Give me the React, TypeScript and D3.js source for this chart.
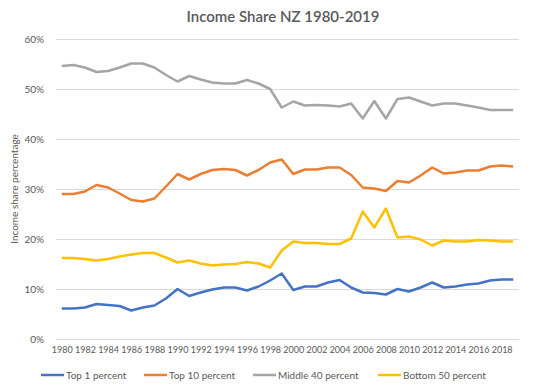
import React, { useEffect, useRef } from "react";
import { select, scalePoint, scaleLinear, line, axisBottom, axisLeft } from "d3";

const years = [
  1980, 1981, 1982, 1983, 1984, 1985, 1986, 1987, 1988, 1989,
  1990, 1991, 1992, 1993, 1994, 1995, 1996, 1997, 1998, 1999,
  2000, 2001, 2002, 2003, 2004, 2005, 2006, 2007, 2008, 2009,
  2010, 2011, 2012, 2013, 2014, 2015, 2016, 2017, 2018, 2019,
];

const top1 = [
  6.1, 6.1, 6.3, 7.0, 6.8, 6.6, 5.7, 6.3, 6.7, 8.1,
  10.0, 8.6, 9.3, 9.9, 10.3, 10.3, 9.7, 10.5, 11.7, 13.1,
  9.8, 10.5, 10.5, 11.3, 11.8, 10.3, 9.3, 9.2, 8.9, 10.0,
  9.5, 10.3, 11.3, 10.3, 10.5, 10.9, 11.1, 11.7, 11.9, 11.9,
];

const top10 = [
  29.0, 29.0, 29.5, 30.8, 30.3, 29.1, 27.8, 27.5, 28.1, 30.5,
  33.0, 31.9, 33.0, 33.8, 34.0, 33.8, 32.7, 33.8, 35.3, 35.9,
  33.0, 33.9, 33.9, 34.3, 34.3, 32.8, 30.3, 30.1, 29.6, 31.6,
  31.3, 32.7, 34.3, 33.1, 33.3, 33.7, 33.7, 34.5, 34.7, 34.5,
];

const middle40 = [
  54.6, 54.8, 54.3, 53.4, 53.6, 54.3, 55.1, 55.1, 54.3, 52.8,
  51.5, 52.6, 51.9, 51.3, 51.1, 51.1, 51.8, 51.1, 50.0, 46.3,
  47.5, 46.7, 46.8, 46.7, 46.5, 47.1, 44.1, 47.6, 44.1, 48.0,
  48.3, 47.5, 46.7, 47.1, 47.1, 46.7, 46.3, 45.8, 45.8, 45.8,
];

const bottom50 = [
  16.2, 16.2, 16.0, 15.7, 16.0, 16.5, 16.9, 17.2, 17.2, 16.3,
  15.3, 15.7, 15.1, 14.7, 14.9, 15.0, 15.4, 15.1, 14.3, 17.7,
  19.5, 19.2, 19.2, 19.0, 19.0, 20.1, 25.5, 22.3, 26.1, 20.3,
  20.5, 19.9, 18.7, 19.7, 19.5, 19.5, 19.8, 19.7, 19.5, 19.5,
];

const yTicks = [0, 10, 20, 30, 40, 50, 60];

const series = [
  { name: "Top 1 percent", values: top1, color: "#4472C4" },
  { name: "Top 10 percent", values: top10, color: "#ED7D31" },
  { name: "Middle 40 percent", values: middle40, color: "#A5A5A5" },
  { name: "Bottom 50 percent", values: bottom50, color: "#FFC000" },
];

const W = 533;
const H = 392;
const FONT = "Lato, 'Open Sans', sans-serif";
const TEXT = "#595959";

const App = () => {
  const ref = useRef<SVGSVGElement>(null);

  useEffect(() => {
    const svg = select(ref.current);
    svg.selectAll("*").remove();

    const x = scalePoint<number>().domain(years).range([56, 519]).padding(0.5);
    const y = scaleLinear().domain([0, 60]).range([339, 39]);

    // gridlines + y labels
    const yAxis = axisLeft(y)
      .tickValues(yTicks)
      .tickSize(-(519 - 56))
      .tickPadding(12)
      .tickFormat((d) => `${d}%`);
    const gy = svg.append("g").attr("transform", "translate(56,0)").call(yAxis);
    gy.select(".domain").remove();
    gy.selectAll(".tick line").attr("stroke", "#D9D9D9").attr("stroke-width", 1);
    gy.selectAll(".tick text")
      .attr("fill", TEXT)
      .attr("font-family", FONT)
      .attr("font-size", 10);

    // x labels every other year
    const xAxis = axisBottom(x)
      .tickValues(years.filter((d, i) => i % 2 === 0))
      .tickSize(0)
      .tickPadding(8)
      .tickFormat((d) => String(d));
    const gx = svg.append("g").attr("transform", "translate(0,339)").call(xAxis);
    gx.select(".domain").remove();
    gx.selectAll(".tick text")
      .attr("fill", TEXT)
      .attr("font-family", FONT)
      .attr("font-size", 9);

    const myLine = line<number>()
      .x((v, i) => x(years[i]) as number)
      .y((v) => y(v));

    svg
      .selectAll(".line")
      .data(series)
      .join("path")
      .attr("class", "line")
      .attr("d", (s) => myLine(s.values))
      .attr("fill", "none")
      .attr("stroke", (s) => s.color)
      .attr("stroke-width", 2.5)
      .attr("stroke-linejoin", "round");

    // title
    svg
      .append("text")
      .attr("x", 283)
      .attr("y", 22)
      .attr("text-anchor", "middle")
      .attr("font-family", FONT)
      .attr("font-size", 15)
      .attr("font-weight", 600)
      .attr("fill", TEXT)
      .text("Income Share NZ 1980-2019");

    // y axis title
    svg
      .append("text")
      .attr("transform", "translate(18,189) rotate(-90)")
      .attr("text-anchor", "middle")
      .attr("font-family", FONT)
      .attr("font-size", 10)
      .attr("fill", TEXT)
      .text("Income share percentage");

    // legend
    const legendX = [41, 144, 253, 378];
    const lg = svg
      .selectAll(".legend")
      .data(series)
      .join("g")
      .attr("class", "legend")
      .attr("transform", (s, i) => `translate(${legendX[i]},375)`);
    lg.append("line")
      .attr("x1", 0)
      .attr("x2", 23)
      .attr("stroke", (s) => s.color)
      .attr("stroke-width", 2.5);
    lg.append("text")
      .attr("x", 25)
      .attr("dy", "0.35em")
      .attr("font-family", FONT)
      .attr("font-size", 10)
      .attr("fill", TEXT)
      .text((s) => s.name);
  }, []);

  return (
    <svg
      ref={ref}
      width={W}
      height={H}
      style={{ position: "absolute", left: 0, top: 0, background: "#fff" }}
    />
  );
};

export default App;
